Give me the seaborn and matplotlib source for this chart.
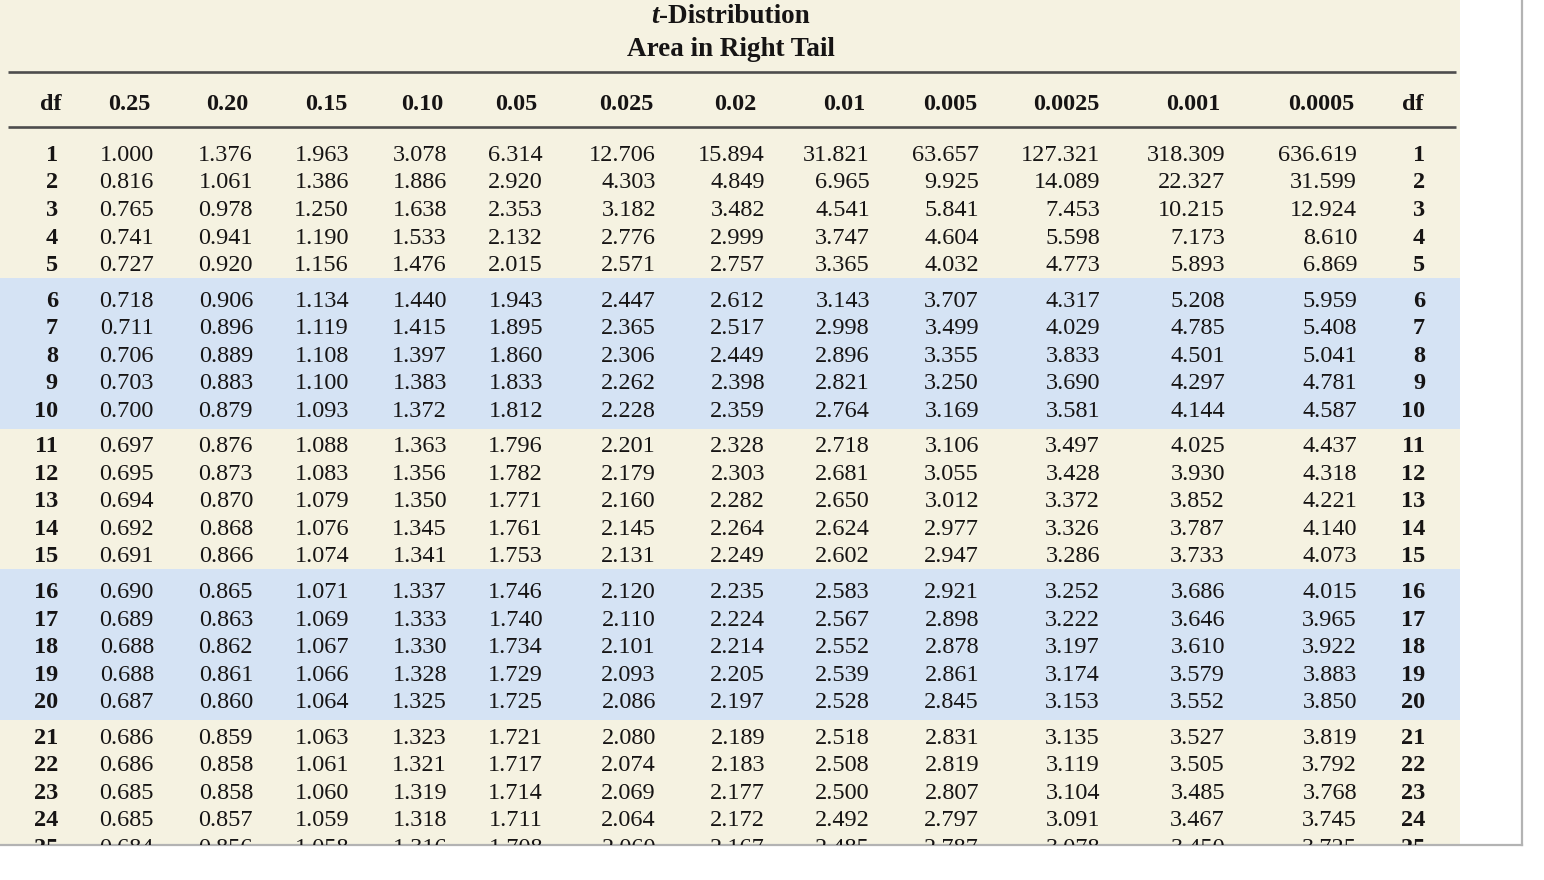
import matplotlib
matplotlib.use("Agg")
import matplotlib.pyplot as plt
import seaborn as sns
import pandas as pd

# --- table values ---
dfs = list(range(1, 26))
tail_labels = ["0.25", "0.20", "0.15", "0.10", "0.05", "0.025", "0.02",
               "0.01", "0.005", "0.0025", "0.001", "0.0005"]

t_0_25 = [1.000, 0.816, 0.765, 0.741, 0.727, 0.718, 0.711, 0.706, 0.703, 0.700,
          0.697, 0.695, 0.694, 0.692, 0.691, 0.690, 0.689, 0.688, 0.688, 0.687,
          0.686, 0.686, 0.685, 0.685, 0.684]
t_0_20 = [1.376, 1.061, 0.978, 0.941, 0.920, 0.906, 0.896, 0.889, 0.883, 0.879,
          0.876, 0.873, 0.870, 0.868, 0.866, 0.865, 0.863, 0.862, 0.861, 0.860,
          0.859, 0.858, 0.858, 0.857, 0.856]
t_0_15 = [1.963, 1.386, 1.250, 1.190, 1.156, 1.134, 1.119, 1.108, 1.100, 1.093,
          1.088, 1.083, 1.079, 1.076, 1.074, 1.071, 1.069, 1.067, 1.066, 1.064,
          1.063, 1.061, 1.060, 1.059, 1.058]
t_0_10 = [3.078, 1.886, 1.638, 1.533, 1.476, 1.440, 1.415, 1.397, 1.383, 1.372,
          1.363, 1.356, 1.350, 1.345, 1.341, 1.337, 1.333, 1.330, 1.328, 1.325,
          1.323, 1.321, 1.319, 1.318, 1.316]
t_0_05 = [6.314, 2.920, 2.353, 2.132, 2.015, 1.943, 1.895, 1.860, 1.833, 1.812,
          1.796, 1.782, 1.771, 1.761, 1.753, 1.746, 1.740, 1.734, 1.729, 1.725,
          1.721, 1.717, 1.714, 1.711, 1.708]
t_0_025 = [12.706, 4.303, 3.182, 2.776, 2.571, 2.447, 2.365, 2.306, 2.262, 2.228,
           2.201, 2.179, 2.160, 2.145, 2.131, 2.120, 2.110, 2.101, 2.093, 2.086,
           2.080, 2.074, 2.069, 2.064, 2.060]
t_0_02 = [15.894, 4.849, 3.482, 2.999, 2.757, 2.612, 2.517, 2.449, 2.398, 2.359,
          2.328, 2.303, 2.282, 2.264, 2.249, 2.235, 2.224, 2.214, 2.205, 2.197,
          2.189, 2.183, 2.177, 2.172, 2.167]
t_0_01 = [31.821, 6.965, 4.541, 3.747, 3.365, 3.143, 2.998, 2.896, 2.821, 2.764,
          2.718, 2.681, 2.650, 2.624, 2.602, 2.583, 2.567, 2.552, 2.539, 2.528,
          2.518, 2.508, 2.500, 2.492, 2.485]
t_0_005 = [63.657, 9.925, 5.841, 4.604, 4.032, 3.707, 3.499, 3.355, 3.250, 3.169,
           3.106, 3.055, 3.012, 2.977, 2.947, 2.921, 2.898, 2.878, 2.861, 2.845,
           2.831, 2.819, 2.807, 2.797, 2.787]
t_0_0025 = [127.321, 14.089, 7.453, 5.598, 4.773, 4.317, 4.029, 3.833, 3.690, 3.581,
            3.497, 3.428, 3.372, 3.326, 3.286, 3.252, 3.222, 3.197, 3.174, 3.153,
            3.135, 3.119, 3.104, 3.091, 3.078]
t_0_001 = [318.309, 22.327, 10.215, 7.173, 5.893, 5.208, 4.785, 4.501, 4.297, 4.144,
           4.025, 3.930, 3.852, 3.787, 3.733, 3.686, 3.646, 3.610, 3.579, 3.552,
           3.527, 3.505, 3.485, 3.467, 3.450]
t_0_0005 = [636.619, 31.599, 12.924, 8.610, 6.869, 5.959, 5.408, 5.041, 4.781, 4.587,
            4.437, 4.318, 4.221, 4.140, 4.073, 4.015, 3.965, 3.922, 3.883, 3.850,
            3.819, 3.792, 3.768, 3.745, 3.725]

table = pd.DataFrame(
    dict(zip(tail_labels, [t_0_25, t_0_20, t_0_15, t_0_10, t_0_05, t_0_025, t_0_02,
                           t_0_01, t_0_005, t_0_0025, t_0_001, t_0_0005])),
    index=dfs,
)

# --- layout (pixel-like data units of the axes) ---
num_right = [154, 253, 349, 447, 543, 656, 765, 870, 979, 1100, 1225, 1357]
head_center = [129, 227, 326, 422, 516, 626, 735, 844, 950, 1066, 1193, 1321]
df_left_right, df_right_right = 58, 1425
cream, blue, ink, rule_col, border = "#f5f2e1", "#d5e3f4", "#161414", "#4d4d4d", "#b3b3b3"


def row_y(i):
    # rows come in blocks of five with a small extra gap between blocks
    return 152.5 + 27.5 * i + 8.2 * (i // 5)


sns.set_theme(style="white")
plt.rcParams["font.family"] = ["Liberation Serif", "DejaVu Serif"]

fig = plt.figure(figsize=(15.44, 8.8), dpi=100)
fig.patch.set_facecolor("white")
ax = fig.add_axes([0, 1 - 845 / 880, 1522 / 1544, 845 / 880])
ax.set_xlim(0, 1522)
ax.set_ylim(845, 0)
ax.set_xticks([])
ax.set_yticks([])
ax.set_facecolor("white")
sns.despine(ax=ax, top=True, left=True, right=False, bottom=False)
for s in ("right", "bottom"):
    ax.spines[s].set_color(border)
    ax.spines[s].set_linewidth(1.6)

# background panel and shaded row blocks
ax.fill_between([0, 1460], 0, 845, color=cream, lw=0, zorder=0)
for start in (5, 15):
    ax.fill_between([0, 1460], row_y(start) - 20.5, row_y(start + 4) + 20.5,
                    color=blue, lw=0, zorder=1)

# title
ax.text(659, 23, "t", fontsize=19.5, fontweight="bold", fontstyle="italic",
        ha="right", va="baseline", color=ink)
ax.text(659, 23, "-Distribution", fontsize=19.5, fontweight="bold",
        ha="left", va="baseline", color=ink)
ax.text(731, 56, "Area in Right Tail", fontsize=19.5, fontweight="bold",
        ha="center", va="baseline", color=ink)

# rules
ax.hlines([72.5, 127], 8, 1456, color=rule_col, lw=1.9, zorder=2)

# header row
hdr = dict(fontsize=17.5, fontweight="bold", va="baseline", color=ink)
ax.text(51, 110, "df", ha="center", **hdr)
ax.text(1413, 110, "df", ha="center", **hdr)
for lab, xc in zip(tail_labels, head_center):
    ax.text(xc, 110, lab, ha="center", **hdr)

# body
body = dict(fontsize=17.5, va="baseline", color=ink, clip_on=True, zorder=3)
for i, d in enumerate(table.index):
    yb = row_y(i) + 8.5
    ax.text(df_left_right, yb, str(d), ha="right", fontweight="bold", **body)
    ax.text(df_right_right, yb, str(d), ha="right", fontweight="bold", **body)
    for lab, xr in zip(tail_labels, num_right):
        ax.text(xr, yb, f"{table.loc[d, lab]:.3f}", ha="right", **body)

fig.savefig("out.png", dpi=100, facecolor="white")
